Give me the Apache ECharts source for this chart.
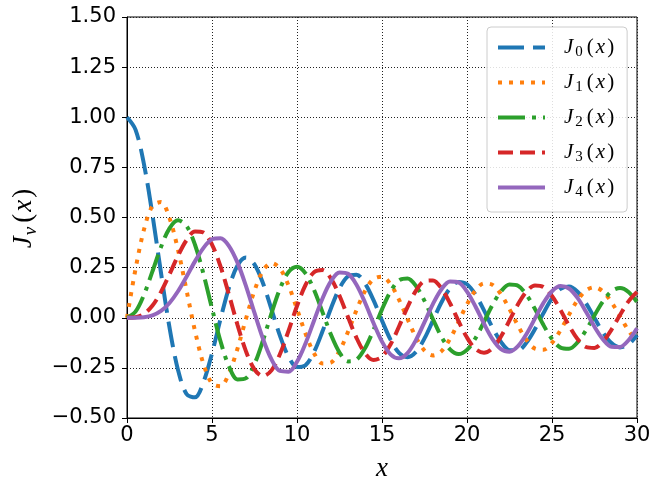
<!DOCTYPE html>
<html><head><meta charset="utf-8">
<script src="https://cdn.jsdelivr.net/npm/echarts@6/dist/echarts.min.js"></script>
<style>html,body{margin:0;padding:0;background:#fff}#c{width:651px;height:484px}</style>
</head><body><div id="c"></div>
<script>
// x positions (0 to 30, step 0.5)
const xs = [0,0.5,1,1.5,2,2.5,3,3.5,4,4.5,5,5.5,6,6.5,7,7.5,8,8.5,9,9.5,10,10.5,11,11.5,12,12.5,13,13.5,14,14.5,15,15.5,16,16.5,17,17.5,18,18.5,19,19.5,20,20.5,21,21.5,22,22.5,23,23.5,24,24.5,25,25.5,26,26.5,27,27.5,28,28.5,29,29.5,30];
const j0 = [1.0000,0.9385,0.7652,0.5118,0.2239,-0.0484,-0.2601,-0.3801,-0.3971,-0.3205,-0.1776,-0.0068,0.1506,0.2601,0.3001,0.2663,0.1717,0.0419,-0.0903,-0.1939,-0.2459,-0.2366,-0.1712,-0.0677,0.0477,0.1469,0.2069,0.2150,0.1711,0.0875,-0.0142,-0.1092,-0.1749,-0.1964,-0.1699,-0.1031,-0.0134,0.0772,0.1466,0.1789,0.1670,0.1151,0.0366,-0.0489,-0.1207,-0.1615,-0.1624,-0.1239,-0.0562,0.0237,0.0963,0.1441,0.1560,0.1299,0.0727,-0.0010,-0.0732,-0.1263,-0.1478,-0.1331,-0.0864];
const j1 = [0,0.2423,0.4401,0.5579,0.5767,0.4971,0.3391,0.1374,-0.0660,-0.2311,-0.3276,-0.3414,-0.2767,-0.1538,-0.0047,0.1352,0.2346,0.2731,0.2453,0.1613,0.0435,-0.0788,-0.1768,-0.2284,-0.2234,-0.1655,-0.0703,0.0380,0.1334,0.1934,0.2051,0.1672,0.0904,-0.0058,-0.0977,-0.1634,-0.1880,-0.1666,-0.1057,-0.0209,0.0668,0.1363,0.1711,0.1639,0.1172,0.0432,-0.0395,-0.1109,-0.1540,-0.1590,-0.1254,-0.0620,0.0150,0.0870,0.1366,0.1521,0.1306,0.0777,0.0069,-0.0643,-0.1188];
const j2 = [0,0.0306,0.1149,0.2321,0.3528,0.4461,0.4861,0.4586,0.3641,0.2179,0.0466,-0.1173,-0.2429,-0.3074,-0.3014,-0.2303,-0.1130,0.0223,0.1448,0.2279,0.2546,0.2216,0.1390,0.0279,-0.0849,-0.1734,-0.2177,-0.2094,-0.1520,-0.0609,0.0416,0.1308,0.1862,0.1957,0.1584,0.0844,-0.0075,-0.0952,-0.1578,-0.1810,-0.1603,-0.1018,-0.0203,0.0642,0.1313,0.1654,0.1590,0.1145,0.0434,-0.0367,-0.1063,-0.1489,-0.1548,-0.1233,-0.0626,0.0121,0.0825,0.1317,0.1483,0.1288,0.0785];
const j3 = [0,0.0026,0.0196,0.0610,0.1289,0.2166,0.3091,0.3868,0.4302,0.4247,0.3648,0.2561,0.1148,-0.0353,-0.1676,-0.2581,-0.2911,-0.2626,-0.1809,-0.0653,0.0584,0.1633,0.2273,0.2381,0.1951,0.1100,0.0033,-0.1001,-0.1768,-0.2102,-0.1940,-0.1335,-0.0438,0.0532,0.1349,0.1827,0.1863,0.1461,0.0725,-0.0163,-0.0989,-0.1561,-0.1750,-0.1519,-0.0933,-0.0138,0.0672,0.1304,0.1613,0.1530,0.1083,0.0387,-0.0389,-0.1056,-0.1459,-0.1504,-0.1188,-0.0592,0.0135,0.0818,0.1292];
const j4 = [0,0.0002,0.0025,0.0118,0.0340,0.0738,0.1320,0.2044,0.2811,0.3484,0.3912,0.3967,0.3576,0.2748,0.1578,0.0238,-0.1054,-0.2077,-0.2655,-0.2691,-0.2196,-0.1283,-0.0150,0.0963,0.1825,0.2262,0.2193,0.1649,0.0762,-0.0261,-0.1192,-0.1825,-0.2026,-0.1763,-0.1107,-0.0218,0.0696,0.1425,0.1806,0.1760,0.1307,0.0561,-0.0297,-0.1066,-0.1568,-0.1691,-0.1415,-0.0812,-0.0031,0.0741,0.1323,0.1580,0.1459,0.0994,0.0302,-0.0449,-0.1079,-0.1442,-0.1455,-0.1122,-0.0526];
const seriesNames = ['J0','J1','J2','J3','J4'];
const subscripts = ['0','1','2','3','4'];
const xTickInfo = {min: 0, max: 30, step: 5};
const yTickInfo = {min: -0.5, max: 1.5, step: 0.25};

const allValues = [j0, j1, j2, j3, j4];
const colors = ['#1f77b4','#ff7f0e','#2ca02c','#d62728','#9467bd'];
const dashes = [[26,9],[4,7],[27,7,4,7],[15,7],'solid'];
const serif = "'Liberation Serif', 'DejaVu Serif', serif";
const sans = "'DejaVu Sans', sans-serif";

const series = allValues.map((vals, k) => ({
  name: seriesNames[k],
  type: 'line',
  data: xs.map((x, i) => [x, vals[i]]),
  smooth: 0.33,
  symbol: 'none',
  showSymbol: false,
  lineStyle: {color: colors[k], width: 4, type: dashes[k], cap: 'butt'},
  itemStyle: {color: colors[k]},
  emphasis: {disabled: true},
  animation: false,
  z: 2 + k
}));

const legendRich = {
  j: {fontFamily: serif, fontStyle: 'italic', fontSize: 21, lineHeight: 24, color: '#000', padding: [0, 1, 0, 14]},
  i: {fontFamily: serif, fontStyle: 'italic', fontSize: 21, lineHeight: 24, color: '#000', padding: [0, 1, 0, 0]},
  s: {fontFamily: serif, fontSize: 15, lineHeight: 14, color: '#000', padding: [10, 3, 0, 1]},
  n: {fontFamily: serif, fontSize: 21, lineHeight: 24, color: '#000', padding: [0, 2, 0, 1]}
};

const legendData = seriesNames.map((nm, k) => ({
  name: nm,
  icon: 'line',
  itemStyle: {color: colors[k], borderColor: colors[k], borderWidth: 4, borderType: dashes[k], borderCap: 'butt', opacity: 1}
}));

const chart = echarts.init(document.getElementById('c'), null, {renderer: 'canvas'});
chart.setOption({
  animation: false,
  backgroundColor: '#fff',
  grid: {left: 127, top: 17, width: 510, height: 401, show: true, borderColor: '#000', borderWidth: 1, backgroundColor: 'transparent', containLabel: false, outerBoundsMode: 'none'},
  xAxis: {
    type: 'value', min: xTickInfo.min, max: xTickInfo.max, interval: xTickInfo.step,
    axisLine: {show: true, onZero: false, lineStyle: {color: '#000', width: 1}},
    axisTick: {show: true, inside: false, length: 5, lineStyle: {color: '#000', width: 1}},
    axisLabel: {show: true, margin: 7, color: '#000', fontFamily: sans, fontSize: 21, hideOverlap: false, showMinLabel: true, showMaxLabel: true},
    splitLine: {show: true, lineStyle: {color: '#222', width: 1, type: [1, 2]}},
    name: '{i|x}', nameLocation: 'middle', nameGap: 36,
    nameTextStyle: {rich: {i: {fontFamily: serif, fontStyle: 'italic', fontSize: 27, lineHeight: 30, color: '#000'}}}
  },
  yAxis: {
    type: 'value', min: yTickInfo.min, max: yTickInfo.max, interval: yTickInfo.step,
    axisLine: {show: true, onZero: false, lineStyle: {color: '#000', width: 1}},
    axisTick: {show: true, inside: false, length: 5, lineStyle: {color: '#000', width: 1}},
    axisLabel: {show: true, margin: 11, color: '#000', fontFamily: sans, fontSize: 21, hideOverlap: false, showMinLabel: true, showMaxLabel: true,
      formatter: v => (v < 0 ? '\u2212' : '') + Math.abs(v).toFixed(2)},
    splitLine: {show: true, lineStyle: {color: '#222', width: 1, type: [1, 2]}},
    name: '{i|J}{s|\u03bd}{n|(}{i|x}{n|)}', nameLocation: 'middle', nameRotate: 90, nameGap: 84,
    nameTextStyle: {rich: {
      i: {fontFamily: serif, fontStyle: 'italic', fontSize: 27, lineHeight: 32, color: '#000', padding: [0, 1, 0, 0]},
      s: {fontFamily: serif, fontStyle: 'italic', fontSize: 19, lineHeight: 18, color: '#000', padding: [14, 3, 0, 0]},
      n: {fontFamily: serif, fontSize: 27, lineHeight: 32, color: '#000', padding: [0, 2, 0, 1]}
    }}
  },
  legend: {
    show: true, orient: 'vertical', left: 487, top: 27,
    padding: [8, 11, 12, 9], itemGap: 10, itemWidth: 47, itemHeight: 14, itemTextGap: 5,
    backgroundColor: 'rgba(255,255,255,0.85)', borderColor: '#cccccc', borderWidth: 1, borderRadius: 4,
    selectedMode: false,
    data: legendData,
    formatter: name => '{j|J}{s|' + subscripts[seriesNames.indexOf(name)] + '}{n|(}{i|x}{n|)}',
    textStyle: {rich: legendRich, color: '#000'}
  },
  series: series
});
</script></body></html>
